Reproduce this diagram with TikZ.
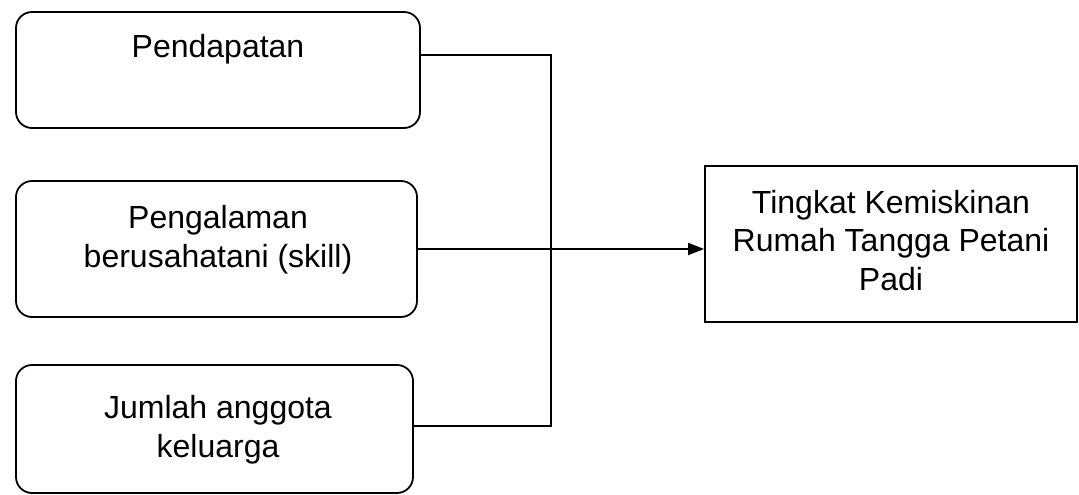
\documentclass[tikz,border=0pt]{standalone}
\usepackage{fontspec}
\setmainfont{Liberation Sans}
\usetikzlibrary{arrows.meta}
\begin{document}
\begin{tikzpicture}[x=1pt,y=-1pt,
  box/.style={draw, line width=1.8pt, rounded corners=16pt, inner sep=0pt},
  sqbox/.style={draw, line width=1.8pt, inner sep=0pt},
  lbl/.style={font=\fontsize{32}{38.5}\selectfont, align=center, inner sep=0pt},
  conn/.style={line width=1.8pt}]
\useasboundingbox (0,0) rectangle (1079,495);
\node[box, minimum width=404pt, minimum height=116pt] (b1) at (218,70) {};
\node[box, minimum width=401pt, minimum height=136pt] (b2) at (216.5,249) {};
\node[box, minimum width=397pt, minimum height=128pt] (b3) at (214.5,429) {};
\node[sqbox, minimum width=372pt, minimum height=156pt] (r) at (891,244) {};
\node[lbl, anchor=base] (t1) at (218,58) {Pendapatan};
\node[lbl, anchor=base] (t2) at (218,267) {Pengalaman\\berusahatani (skill)};
\node[lbl, anchor=base] (t3) at (218,457) {Jumlah anggota\\keluarga};
\node[lbl, anchor=base] (t4) at (891,290) {Tingkat Kemiskinan\\Rumah Tangga Petani\\Padi};
\coordinate (jt) at (551,55);
\coordinate (jb) at (551,426);
\draw[conn] ([yshift=15pt]b1.east) -- (jt) -- (jb) -- ([yshift=3pt]b3.east);
\draw[conn, -{Triangle[length=16pt,width=12pt]}] (b2.east) -- (b2.east -| r.west);
\end{tikzpicture}
\end{document}
